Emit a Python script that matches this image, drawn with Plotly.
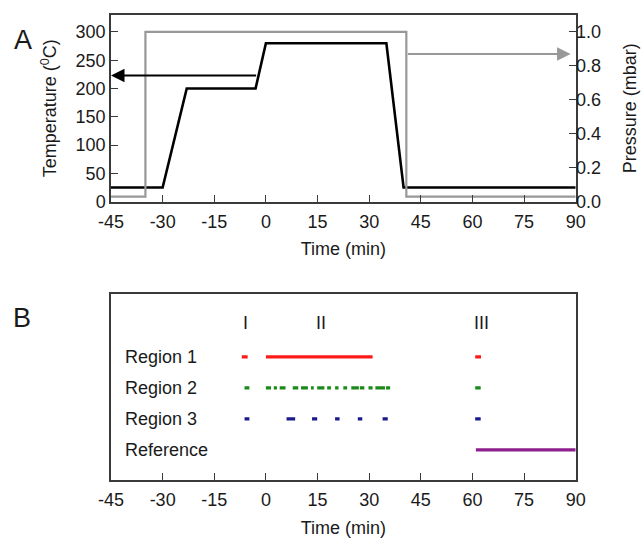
import plotly.graph_objects as go

# ---------------- Panel A data ----------------
temp_time = [-45, -30, -23, -3, 0, 35, 40, 90]
temp_vals = [25, 25, 200, 200, 280, 280, 25, 25]

pres_time = [-45, -35, -35, 40.8, 40.8, 90]
pres_vals = [0.03, 0.03, 1.0, 1.0, 0.03, 0.03]

x_ticks = [-45, -30, -15, 0, 15, 30, 45, 60, 75, 90]
x_tick_labels = ["-45", "-30", "-15", "0", "15", "30", "45", "60", "75", "90"]
temp_ticks = [0, 50, 100, 150, 200, 250, 300]
pres_ticks = [0.0, 0.2, 0.4, 0.6, 0.8, 1.0]

# arrows (tail x, tip x, level)
temp_arrow = (-2.4, -45, 223)
pres_arrow = (40.8, 88.5, 0.87)

# ---------------- Panel B data ----------------
row_names = ["Region 1", "Region 2", "Region 3", "Reference"]
row_levels = [4, 3, 2, 1]
row_colors = ["#ff1a1a", "#1a8a1a", "#1a1a8c", "#8e1f8e"]

region1_segments = [(-7.0, -5.3), (0.0, 31.0), (60.8, 62.5)]
region2_segments = [(-6.2, -4.8), (0.0, 1.5), (2.3, 3.2), (4.0, 5.7), (7.8, 9.4),
                    (10.2, 12.2), (13.1, 13.9), (14.9, 17.0), (17.8, 18.9),
                    (20.1, 21.1), (22.5, 23.6), (24.8, 27.0), (27.3, 28.6),
                    (29.8, 31.0), (31.8, 34.6), (34.9, 36.1), (60.8, 62.4)]
region3_segments = [(-6.2, -4.8), (6.0, 8.5), (13.4, 14.9), (20.1, 21.4),
                    (26.7, 28.0), (33.9, 35.4), (60.8, 62.4)]
reference_segments = [(61.0, 90.0)]
all_segments = [region1_segments, region2_segments, region3_segments, reference_segments]

phase_labels = ["I", "II", "III"]
phase_times = [-6, 16, 62.7]
phase_level = 5.09
label_time = -41.4

FONT = "Liberation Sans, Arial, sans-serif"
TXT = "#1a1a1a"
BOX = "#3a3a3a"
FS = 18

W, H = 642, 538
xdom = [111 / W, 575.7 / W]
ydomA = [1 - 201.7 / H, 1 - 15 / H]
ydomB = [1 - 480 / H, 1 - 294 / H]

fig = go.Figure()

fig.add_trace(go.Scatter(x=pres_time, y=pres_vals, mode="lines",
                         line=dict(color="#989898", width=2.2),
                         xaxis="x", yaxis="y2", showlegend=False))
fig.add_trace(go.Scatter(x=temp_time, y=temp_vals, mode="lines",
                         line=dict(color="#000000", width=2.6),
                         xaxis="x", yaxis="y", showlegend=False))

for segs, lvl, col in zip(all_segments, row_levels, row_colors):
    xs, ys = [], []
    for a, b in segs:
        xs += [a, b, None]
        ys += [lvl, lvl, None]
    fig.add_trace(go.Scatter(x=xs, y=ys, mode="lines",
                             line=dict(color=col, width=3.2),
                             xaxis="x2", yaxis="y3", showlegend=False))

annotations = []
# arrows
annotations.append(dict(x=temp_arrow[1], y=temp_arrow[2], ax=temp_arrow[0], ay=temp_arrow[2],
                        xref="x", yref="y", axref="x", ayref="y", text="",
                        showarrow=True, arrowhead=2, arrowsize=1.35, arrowwidth=2,
                        arrowcolor="#000000"))
annotations.append(dict(x=pres_arrow[1], y=pres_arrow[2], ax=pres_arrow[0], ay=pres_arrow[2],
                        xref="x", yref="y2", axref="x", ayref="y2", text="",
                        showarrow=True, arrowhead=2, arrowsize=1.35, arrowwidth=2,
                        arrowcolor="#989898"))
# row labels
for name, lvl in zip(row_names, row_levels):
    annotations.append(dict(x=label_time, y=lvl, xref="x2", yref="y3", text=name,
                            showarrow=False, xanchor="left", yanchor="middle",
                            font=dict(family=FONT, size=FS, color=TXT)))
for lab, t in zip(phase_labels, phase_times):
    annotations.append(dict(x=t, y=phase_level, xref="x2", yref="y3", text=lab,
                            showarrow=False, xanchor="center", yanchor="middle",
                            font=dict(family=FONT, size=FS, color=TXT)))
# panel letters
annotations.append(dict(x=23 / W, y=1 - 40 / H, xref="paper", yref="paper", text="A",
                        showarrow=False, xanchor="center", yanchor="middle",
                        font=dict(family=FONT, size=27, color=TXT)))
annotations.append(dict(x=22 / W, y=1 - 318 / H, xref="paper", yref="paper", text="B",
                        showarrow=False, xanchor="center", yanchor="middle",
                        font=dict(family=FONT, size=27, color=TXT)))

axis_common = dict(showline=True, linecolor=BOX, linewidth=1.5, showgrid=False,
                   zeroline=False, ticks="inside", ticklen=7, tickwidth=1.3,
                   tickcolor=BOX, automargin=False,
                   tickfont=dict(family=FONT, size=FS, color=TXT))

fig.update_layout(
    width=W, height=H,
    margin=dict(l=0, r=0, t=0, b=0, autoexpand=False),
    paper_bgcolor="white", plot_bgcolor="white",
    font=dict(family=FONT, size=FS, color=TXT),
    annotations=annotations,
    xaxis=dict(domain=xdom, range=[-45, 90], tickvals=x_ticks, ticktext=x_tick_labels,
               anchor="y", mirror=True, ticklabelstandoff=3,
               title=dict(text="Time (min)", standoff=11,
                          font=dict(family=FONT, size=FS, color=TXT)),
               **axis_common),
    yaxis=dict(domain=ydomA, range=[0, 330], tickvals=temp_ticks, anchor="x",
               title=dict(text="Temperature (<sup>0</sup>C)", standoff=14,
                          font=dict(family=FONT, size=FS, color=TXT)),
               **axis_common),
    yaxis2=dict(domain=ydomA, range=[0, 1.1], tickvals=pres_ticks, tickformat=".1f",
                overlaying="y", side="right", anchor="x", ticklabelstandoff=-5,
                title=dict(text="Pressure (mbar)", standoff=23,
                           font=dict(family=FONT, size=FS, color=TXT)),
                **axis_common),
    xaxis2=dict(domain=xdom, range=[-45, 90], tickvals=x_ticks, ticktext=x_tick_labels,
                anchor="y3", mirror=True, ticklabelstandoff=3,
                title=dict(text="Time (min)", standoff=13,
                           font=dict(family=FONT, size=FS, color=TXT)),
                **axis_common),
    yaxis3=dict(domain=ydomB, range=[0.03, 6.03], anchor="x2", showline=True,
                linecolor=BOX, linewidth=1.5, mirror=True, showgrid=False,
                zeroline=False, showticklabels=False, ticks="", automargin=False),
)

fig.write_html("out.html",
               config={"displayModeBar": False},
               post_script="document.body.style.margin='0';document.body.style.overflow='hidden';")
